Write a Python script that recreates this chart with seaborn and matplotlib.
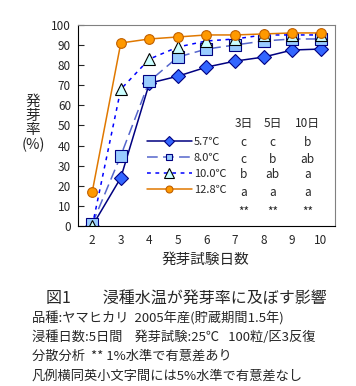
import numpy as np
import pandas as pd
import matplotlib
matplotlib.use("Agg")
import matplotlib.pyplot as plt
import seaborn as sns

# data
days = [2, 3, 4, 5, 6, 7, 8, 9, 10]
temps = ["5.7℃", "8.0℃", "10.0℃", "12.8℃"]
rate_57 = [0, 24, 71, 74.5, 79, 82, 84, 87.5, 88]
rate_80 = [1, 35, 72, 84, 88, 90, 92, 93, 93]
rate_100 = [0, 68, 83, 89, 92, 93, 95, 95, 95]
rate_128 = [17, 91, 93, 94, 95, 95, 95.5, 96, 96]

table_header = ["3日", "5日", "10日"]
table_rows = [["c", "c", "b"], ["c", "b", "ab"], ["b", "ab", "a"], ["a", "a", "a"], ["**", "**", "**"]]

sns.set_style("white")
plt.rcParams['font.family'] = ['Noto Sans CJK JP', 'DejaVu Sans']

df = pd.DataFrame({
    "day": days * 4,
    "rate": rate_57 + rate_80 + rate_100 + rate_128,
    "temp": np.repeat(temps, len(days)),
})

styles = {
    "5.7℃": dict(color="#000080", ls="-", marker="D", mfc="#3366FF", mec="#000080", ms=7),
    "8.0℃": dict(color="#5566CC", ls=(0, (7, 3.5)), marker="s", mfc="#99CCFF", mec="#000080", ms=8),
    "10.0℃": dict(color="#0000FF", ls=(0, (2.5, 3)), marker="^", mfc="#CCFFFF", mec="#000000", ms=9),
    "12.8℃": dict(color="#E07800", ls="-", marker="o", mfc="#FF9900", mec="#C06000", ms=7),
}
legend_ms = {"5.7℃": 5, "8.0℃": 5, "10.0℃": 7, "12.8℃": 5}

fig = plt.figure(figsize=(3.56, 3.86), dpi=100)
ax = fig.add_axes([0.219, 0.4145, 0.722, 0.521])

for t in temps:
    s = styles[t]
    sns.lineplot(data=df[df.temp == t], x="day", y="rate", ax=ax, label=t,
                 color=s["color"], linestyle=s["ls"], linewidth=1.1,
                 marker=s["marker"], markerfacecolor=s["mfc"], markeredgecolor=s["mec"],
                 markersize=s["ms"], markeredgewidth=0.8)

ax.set_xlim(1.5, 10.5)
ax.set_ylim(0, 100)
ax.set_xticks(days)
ax.set_yticks(range(0, 101, 10))
ax.set_xticks(np.arange(2.5, 10.5, 1), minor=True)
ax.tick_params(axis="x", which="major", length=0, labelsize=8.5, pad=6)
ax.tick_params(axis="x", which="minor", direction="in", length=4, color="black")
ax.tick_params(axis="y", length=4, direction="in", labelsize=8.5, left=True, pad=5)
ax.set_xlabel("")
ax.set_ylabel("")
for sp in ["left", "bottom"]:
    ax.spines[sp].set_color("black")
for sp in ["top", "right"]:
    ax.spines[sp].set_color("#808080")

leg = ax.legend(loc="upper left", bbox_to_anchor=(0.25, 0.465), frameon=False,
                handlelength=4.1, handletextpad=0.15, labelspacing=0.55,
                fontsize=8, borderaxespad=0)
for h, t in zip(leg.legend_handles, temps):
    h.set_markersize(legend_ms[t])

col_x = [7.3, 8.32, 9.54]
for cx, head in zip(col_x, table_header):
    ax.text(cx, 51.2, head, ha="center", va="center", fontsize=8.5)
row_y = [41.3, 33.3, 25.4, 16.9, 7.0]
for ry, row in zip(row_y, table_rows):
    for cx, val in zip(col_x, row):
        ax.text(cx, ry, val, ha="center", va="center", fontsize=8.5)

fig.text(0.093, 0.68, "発\n芽\n率\n(%)", ha="center", va="center", fontsize=10.5, linespacing=1.0)
fig.text(205 / 356, 1 - 260 / 386, "発芽試験日数", ha="center", va="center", fontsize=10.5)
fig.text(186 / 356, 1 - 298 / 386, "図1　　浸種水温が発芽率に及ぼす影響", ha="center", va="center", fontsize=11.5)
notes = ["品種:ヤマヒカリ  2005年産(貯蔵期間1.5年)",
         "浸種日数:5日間    発芽試験:25℃   100粒/区3反復",
         "分散分析  ** 1%水準で有意差あり",
         "凡例横同英小文字間には5%水準で有意差なし"]
for i, line in enumerate(notes):
    fig.text(32 / 356, 1 - (318 + 19.3 * i) / 386, line, ha="left", va="center", fontsize=9.5)

fig.savefig("out.png", dpi=100)
